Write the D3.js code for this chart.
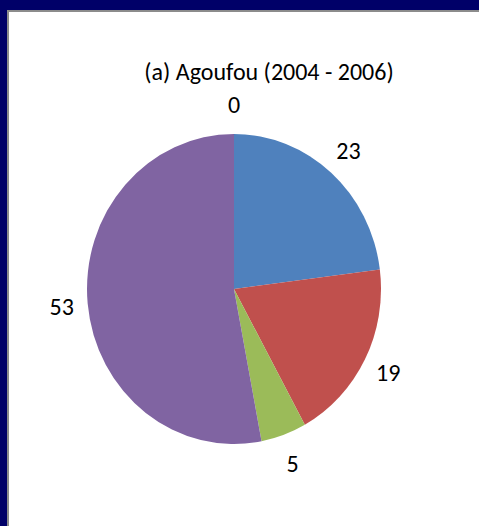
<!DOCTYPE html>
<html>
<head>
<meta charset="utf-8">
<script src="https://cdn.jsdelivr.net/npm/d3@7"></script>
<style>
  html, body { margin: 0; padding: 0; background: #fff; overflow: hidden; }
  svg { display: block; }
</style>
</head>
<body>
<svg id="chart" width="479" height="526"></svg>
<script>
// Chart data
const title = "(a) Agoufou (2004 - 2006)";
const categories = ["A", "B", "C", "D", "E"];
const values = [23, 19, 5, 53, 0];
const colors = ["#4f81bd", "#c0504d", "#9bbb59", "#8064a2", "#4bacc6"];

const width = 479, height = 526;
const svg = d3.select("#chart");

// white chart panel, runs off the right/bottom edges
svg.append("rect").attr("width", width).attr("height", height).attr("fill", "#fff");

// navy slide showing at the top and left only
svg.append("rect").attr("x", 0).attr("y", 0).attr("width", width).attr("height", 10).attr("fill", "#000068");
svg.append("rect").attr("x", 0).attr("y", 0).attr("width", 7).attr("height", height).attr("fill", "#000068");

// grey panel edge
svg.append("path")
  .attr("d", `M8,${height}V11H${width}`)
  .attr("fill", "none")
  .attr("stroke", "#8c8c8c")
  .attr("stroke-width", 2);

const font = "Carlito, Calibri, 'Open Sans', sans-serif";

svg.append("text")
  .attr("x", 269).attr("y", 80)
  .attr("text-anchor", "middle")
  .attr("font-family", font)
  .attr("font-size", 24)
  .attr("fill", "#000")
  .text(title);

// pie (slightly taller than wide, like the original)
const cx = 234, cy = 289, rx = 147, ry = 155;

const pie = d3.pie().sort(null).value(d => d.value);
const arcs = pie(categories.map((c, i) => ({ cat: c, value: values[i], color: colors[i] })));
const arc = d3.arc().innerRadius(0).outerRadius(ry);

const g = svg.append("g").attr("transform", `translate(${cx},${cy})`);

g.append("g")
  .attr("transform", `scale(${rx / ry},1)`)
  .selectAll("path")
  .data(arcs)
  .join("path")
  .attr("d", arc)
  .attr("fill", d => d.data.color);

// value labels just outside the edge
const offX = 26, offY = 30;
g.selectAll("text.lbl")
  .data(arcs)
  .join("text")
  .attr("class", "lbl")
  .attr("x", d => {
    const a = (d.startAngle + d.endAngle) / 2;
    return (rx + offX) * Math.sin(a);
  })
  .attr("y", d => {
    const a = (d.startAngle + d.endAngle) / 2;
    return -(ry + offY) * Math.cos(a);
  })
  .attr("text-anchor", "middle")
  .attr("dominant-baseline", "central")
  .attr("font-family", font)
  .attr("font-size", 24)
  .attr("fill", "#000")
  .text(d => d.data.value);
</script>
</body>
</html>
